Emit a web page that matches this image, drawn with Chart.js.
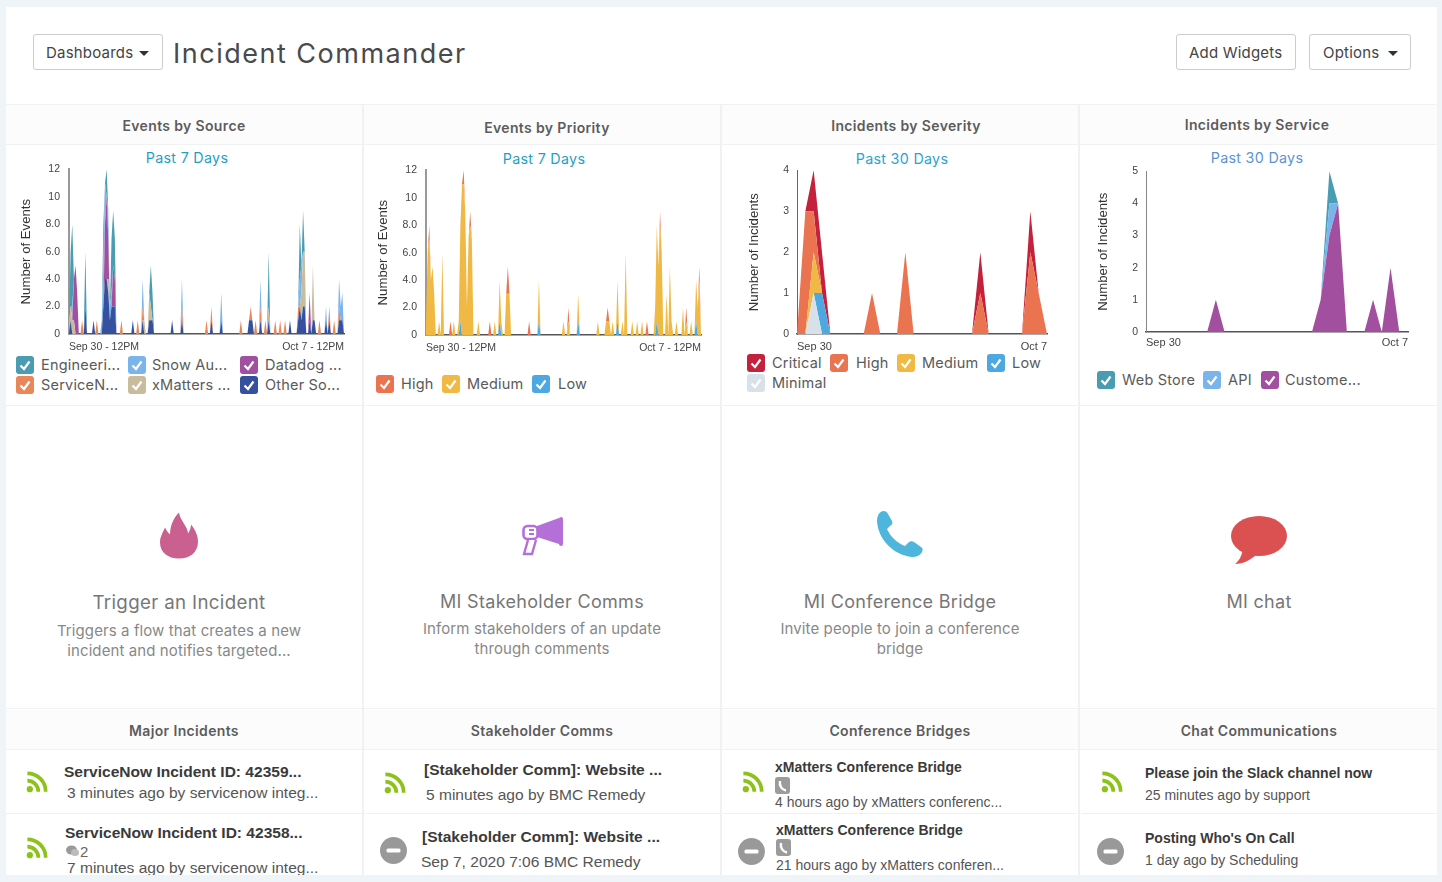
<!DOCTYPE html>
<html><head><meta charset="utf-8"><title>Incident Commander</title>
<script src="https://cdn.jsdelivr.net/npm/chart.js@4"></script>
<style>
html,body{margin:0;padding:0;width:1442px;height:882px;overflow:hidden;background:#eff4f8;}
#card{position:absolute;left:6px;top:7px;width:1431px;height:868px;background:#fff;overflow:hidden;}
#root{position:absolute;left:-6px;top:-7px;width:1442px;height:882px;}
.t{position:absolute;white-space:nowrap;transform:translateY(-50%);}
.c{transform:translate(-50%,-50%);}
.gotham{font-family:Inter,"Open Sans",sans-serif;}
.arial{font-family:"Liberation Sans",Arial,sans-serif;}
.btn{position:absolute;border:1px solid #ccc;border-radius:3px;box-sizing:border-box;height:36px;top:34px;background:#fff;}
.line{position:absolute;background:#f0f1f2;}
.band{position:absolute;background:#fcfcfc;}
canvas{position:absolute;}
.box{position:absolute;width:18px;height:18px;border-radius:3px;}
.box svg{position:absolute;left:0;top:0;}
.car{position:absolute;width:0;height:0;border-left:5px solid transparent;border-right:5px solid transparent;border-top:5px solid #333;}
</style></head><body>
<div id="card"><div id="root"></div></div>
<script>
// ---------- data ----------
const eventHours = [0,1,2,3,4,5,8,10,15,17, 20,21,22,23,24,25,26,27,28,32,39, 42,45,46,49,50,51,63,69,84,87, 93,105,110,111,112,114,117,120,122,126, 129,132,135,140,141,142,143,144,147,149, 150,153,157,159,162,165,166,167];
const srcOther = [0,1,0,0,0,0,0,2,1,0, 0,2,4,4,3,1,2,2,2,0,1, 0,1,0,1,1,1,1,1,0,1, 1,0,1,1,1,0,1,0,1,0, 0,0,1,1,2,1,2,2,1,1, 1,0,1,1,0,1,1,1];
const srcXmatters = [1,1,1,1,0,0,0,0,0,0, 0,0,0,0,1,0,0,0,0,0,0, 0,0,1,2,1,0,0,0,0,0, 0,0,0,0,0,0,0,0,1,0, 0,0,0,0,0,2,4,4,0,4, 0,0,0,0,0,0,0,0];
const srcServiceNow = [0,0,0,0,0,0,1,0,0,1, 0,0,0,0,0,0,0,0,0,1,0, 1,1,0,0,0,0,0,1,1,1, 0,1,0,1,0,1,1,1,0,1, 1,1,0,1,0,0,0,0,0,0, 0,1,0,1,1,1,0,0];
const srcDatadog = [0,0,0,3,5,3,0,0,0,0, 0,0,4,6,3,0,0,3,2,0,0, 0,0,0,0,0,0,0,0,0,0, 0,0,0,0,0,0,0,0,0,0, 0,0,0,0,0,0,0,0,2,0, 0,0,0,0,0,0,0,0];
const srcSnow = [0,0,1,0,0,0,0,0,0,0, 1,3,3,0,2,1,1,0,0,0,0, 0,2,0,0,0,0,0,2,0,0, 2,0,0,0,0,0,2,0,0,0, 0,0,0,0,2,2,0,0,0,0, 0,0,1,0,0,2,1,2];
const srcEngineering = [0,4,6,0,0,0,0,4,0,0, 0,3,0,2,0,0,4,4,3,0,0, 0,0,0,0,3,2,0,0,0,0, 0,0,0,0,0,0,0,0,4,0, 0,0,0,0,4,0,3,0,0,0, 0,0,0,0,0,0,0,0];
const priLow = [0,0,0,0,0,0,0,0,0,0, 0,1,0,0,0,0,0,0,0,0,0, 0,1,0,0,0,0,0,1,0,0, 1,0,0,0,0,0,1,0,0,0, 0,0,0,0,1,0,0,0,0,0, 0,0,0,0,0,1,0,0];
const priMedium = [1,6,7,4,5,3,1,6,0,1, 1,7,11,11,9,2,7,8,7,1,0, 1,3,1,3,3,3,0,3,1,1, 2,1,1,1,1,1,3,1,6,1, 1,1,0,2,7,5,8,6,3,5, 1,1,2,1,1,3,2,4];
const priHigh = [0,0,1,0,0,0,0,0,1,0, 0,0,0,1,0,0,0,1,0,0,1, 0,0,0,0,2,0,1,0,0,1, 0,0,0,1,0,0,0,0,0,0, 0,0,1,0,0,0,1,0,0,0, 0,0,0,1,0,0,0,1];
const sevMinimal  = [0,0,1,0,0,0,0,0,0,0,0,0,0,0,0,0,0,0,0,0,0,0,0,0,0,0,0,0,0,0,0];
const sevLow      = [0,0,0,1,0,0,0,0,0,0,0,0,0,0,0,0,0,0,0,0,0,0,0,0,0,0,0,0,0,0,0];
const sevMedium   = [0,0,1,0,0,0,0,0,0,0,0,0,0,0,0,0,0,0,0,0,0,0,0,0,0,0,0,0,0,0,0];
const sevHigh     = [0,3,1,0,0,0,0,0,0,1,0,0,0,2,0,0,0,0,0,0,0,0,1,0,0,0,0,0,2,1,0];
const sevCritical = [0,0,1,1,0,0,0,0,0,0,0,0,0,0,0,0,0,0,0,0,0,0,1,0,0,0,0,0,1,0,0];
const svcCustomer = [0,0,0,0,0,0,0,0,1,0,0,0,0,0,0,0,0,0,0,0,1,3,4,0,0,0,1,0,2,0,0];
const svcApi      = [0,0,0,0,0,0,0,0,0,0,0,0,0,0,0,0,0,0,0,0,0,1,0,0,0,0,0,0,0,0,0];
const svcWebStore = [0,0,0,0,0,0,0,0,0,0,0,0,0,0,0,0,0,0,0,0,0,1,0,0,0,0,0,0,0,0,0];
const ticksEvents = [0,2,4,6,8,10,12];
const ticksSeverity = [0,1,2,3,4];
const ticksService = [0,1,2,3,4,5];

const C={eng:'#4a9cb2',snow:'#7ab4ec',dd:'#a34fa0',sn:'#e8875a',xm:'#c8bb9e',other:'#35509e',
 high:'#ea7350',med:'#efb944',low:'#4da8e2',crit:'#c4223c',minimal:'#d8e0ea'};

// ---------- helpers ----------
const root=document.getElementById('root');
function el(tag,cls,style,html){const e=document.createElement(tag);if(cls)e.className=cls;if(style)e.style.cssText=style;if(html!=null)e.innerHTML=html;root.appendChild(e);return e;}
function T(x,y,txt,style,center,font){const e=el('div','t '+(center?'c ':'')+(font||'gotham'),`left:${x}px;top:${y}px;`+style);e.textContent=txt;return e;}
function R(x,y,w,h){el('div','line',`left:${x}px;top:${y}px;width:${w}px;height:${h}px`);}
function B(x,y,w,h){el('div','band',`left:${x}px;top:${y}px;width:${w}px;height:${h}px`);}
function svg(x,y,w,h,vb,inner){el('div','',`position:absolute;left:${x}px;top:${y}px;width:${w}px;height:${h}px`,`<svg width="${w}" height="${h}" viewBox="${vb}" style="display:block">${inner}</svg>`);}

// panel furniture
B(6,105,1431,39);B(6,710,1431,39);
[104,144,405,708,749].forEach(y=>R(6,y,1431,1));
R(6,813,356,1);R(364,813,356,1);R(722,813,355,1);R(1081,813,356,1);
[362,720,1078].forEach(x=>{R(x,105,2,300);R(x,406,2,302);R(x,709,2,170);});

// header
T(173,53,'Incident Commander','font-size:27px;letter-spacing:1.5px;color:#4a4a4a;font-weight:400');
function btn(x,w,txt,tx,caret){el('div','btn',`left:${x}px;width:${w}px`);T(tx,52,txt,'font-size:15px;color:#444;letter-spacing:.2px');if(caret)el('div','car',`left:${caret}px;top:51px`);}
btn(33,130,'Dashboards',46,139);btn(1176,120,'Add Widgets',1189);btn(1309,102,'Options',1323,1388);

// headings
const H='font-size:14px;font-weight:600;color:#5c5c5c;letter-spacing:.35px';
T(184,125,'Events by Source',H,1);T(547,127,'Events by Priority',H,1);T(906,125,'Incidents by Severity',H,1);T(1257,124,'Incidents by Service',H,1);
T(184,730,'Major Incidents',H,1);T(542,730,'Stakeholder Comms',H,1);T(900,730,'Conference Bridges',H,1);T(1259,730,'Chat Communications',H,1);
const S='font-size:14.3px;letter-spacing:.3px;';
T(187,157,'Past 7 Days',S+'color:#1f9fc4',1);T(544,158,'Past 7 Days',S+'color:#1f9fc4',1);T(902,158,'Past 30 Days',S+'color:#2ba3cf',1);T(1257,157,'Past 30 Days',S+'color:#5b93d6',1);

// legends
function leg(bx,lx,y,color,txt){el('div','box',`left:${bx}px;top:${y-9}px;background:${color}`,'<svg width="18" height="18" viewBox="0 0 18 18"><path d="M4.5 9.5 L8 13 L13.5 5.5" fill="none" stroke="#fff" stroke-width="2.2"/></svg>');T(lx,y-1,txt,'font-size:14.5px;color:#5a5a5a;letter-spacing:.2px');}
leg(16,41,365,C.eng,'Engineeri...');leg(128,152,365,C.snow,'Snow Au...');leg(240,265,365,C.dd,'Datadog ...');
leg(16,41,385,C.sn,'ServiceN...');leg(128,152,385,C.xm,'xMatters ...');leg(240,265,385,C.other,'Other So...');
leg(376,401,384,C.high,'High');leg(442,467,384,C.med,'Medium');leg(532,558,384,C.low,'Low');
leg(747,772,363,C.crit,'Critical');leg(830,856,363,C.high,'High');leg(897,922,363,C.med,'Medium');leg(987,1012,363,C.low,'Low');leg(747,772,383,C.minimal,'Minimal');
leg(1097,1122,380,C.eng,'Web Store');leg(1203,1228,380,C.snow,'API');leg(1261,1285,380,C.dd,'Custome...');

// tiles
svg(160,512,38,47,'0 0 38 46','<path fill="#c9608f" d="M19 0C20 8 28 14 28 21C30 18 31 15 31 12C36 18 38 24 38 29C38 40 30 46 19 46C8 46 0 40 0 30C0 24 3 20 5 15C7 19 9 21 10 22C10 14 13 6 19 0Z"/>');
svg(522,517,41,39,'0 0 41 39','<path fill="#b56fd8" d="M15 9L37 1V27L15 20Z"/><rect x="37" y="0" width="4" height="29" rx="2" fill="#b56fd8"/><rect x="1.5" y="9" width="14" height="13" rx="4" fill="#fff" stroke="#b56fd8" stroke-width="2.6"/><path d="M7 13h5M7 17h5" stroke="#b56fd8" stroke-width="2"/><path d="M6 23L2 37H10L14 23" fill="#fff" stroke="#b56fd8" stroke-width="2.4"/>');
svg(877,511,46,46,'0 0 46 46','<path fill="#4eb5dc" d="M6 0C9 0 10 1 11 3L15 10C16 12 15 14 13 15L10 18C13 25 20 32 28 35L31 32C33 30 35 30 37 31L44 36C46 37 46 39 45 41C43 45 39 46 35 46C16 44 1 28 0 10C0 5 2 1 6 0Z"/>');
svg(1231,516,56,49,'0 0 56 49','<ellipse cx="28" cy="20" rx="28" ry="20" fill="#db5050"/><path d="M12 32C11 40 8 45 4 48C12 48 20 44 26 38Z" fill="#db5050"/>');
const TT='font-size:18.7px;color:#777;letter-spacing:.35px',TM='font-size:18px;color:#777;letter-spacing:.3px',TD='font-size:15px;color:#888;letter-spacing:.1px';
T(179,602,'Trigger an Incident',TT,1);T(179,630,'Triggers a flow that creates a new',TD,1);T(179,650,'incident and notifies targeted...',TD,1);
T(542,601,'MI Stakeholder Comms',TM,1);T(542,628,'Inform stakeholders of an update',TD,1);T(542,648,'through comments',TD,1);
T(900,601,'MI Conference Bridge',TM,1);T(900,628,'Invite people to join a conference',TD,1);T(900,648,'bridge',TD,1);
T(1259,601,'MI chat',TM,1);

// list rows
function rss(cx,cy){svg(cx-11,cy-11,22,22,'0 0 24 24','<circle cx="4.2" cy="19.8" r="3.4" fill="#8cc21a"/><path d="M1.5 10.5A12 12 0 0 1 13.5 22.5M1.5 2.5A20 20 0 0 1 21.5 22.5" fill="none" stroke="#8cc21a" stroke-width="4"/>');}
function minus(cx,cy){svg(cx-13.5,cy-13.5,27,27,'0 0 27 27','<circle cx="13.5" cy="13.5" r="13.5" fill="#999"/><rect x="6.5" y="11.5" width="14" height="4" rx="1.5" fill="#fff"/>');}
function tel(x,y){svg(x,y,15,17,'0 0 15 17','<rect width="15" height="17" rx="3" fill="#9b9b9b"/><path d="M5 4C4 9 7 13 11 13.5" fill="none" stroke="#fff" stroke-width="2.4"/>');}
const LT='font-size:14px;font-weight:700;color:#3a3a3a;',LS='font-size:14px;color:#555;';
const W='transform-origin:0 50%;transform:translateY(-50%) scaleX(1.11);';
function row(x1,y1,t,x2,y2,s,wide){const w=wide?W:'';T(x1,y1,t,LT+w,0,'arial');T(x2,y2,s,LS+w,0,'arial');}
rss(37,782);row(64,772,'ServiceNow Incident ID: 42359...',67,793,'3 minutes ago by servicenow integ...',1);
rss(37,848);row(65,833,'ServiceNow Incident ID: 42358...',67,868,'7 minutes ago by servicenow integ...',1);
svg(66,845,13,12,'0 0 13 12','<ellipse cx="5.5" cy="5" rx="5.5" ry="4.6" fill="#999"/><ellipse cx="9" cy="7.5" rx="4" ry="3.6" fill="#bbb"/>');T(80,851,'2','font-size:15px;color:#666','', 'arial');
rss(395,783);row(424,770,'[Stakeholder Comm]: Website ...',426,795,'5 minutes ago by BMC Remedy',1);
minus(393,850);row(422,837,'[Stakeholder Comm]: Website ...',421,862,'Sep 7, 2020 7:06 BMC Remedy',1);
rss(753,782);row(775,767,'xMatters Conference Bridge',775,802,'4 hours ago by xMatters conferenc...');tel(775,777);
minus(751,851);row(776,830,'xMatters Conference Bridge',776,865,'21 hours ago by xMatters conferen...');tel(776,839);
rss(1112,782);row(1145,773,'Please join the Slack channel now',1145,795,'25 minutes ago by support');
minus(1110,851);row(1145,838,"Posting Who's On Call",1145,860,'1 day ago by Scheduling');

// ---------- charts ----------
function dense(hours,vals,n){const a=new Array(n).fill(0);hours.forEach((h,i)=>{a[h]=vals[i];});return a;}
function make(o){
  const c=document.createElement('canvas');
  const left=o.titleX-8, top=o.top-12, w=o.right+6-left, h=o.bottom+25-top;
  c.width=w;c.height=h;c.style.left=left+'px';c.style.top=top+'px';root.appendChild(c);
  new Chart(c,{type:'line',
   data:{labels:o.series[0].data.map((_,i)=>i),
     datasets:o.series.map((s,i)=>({label:s.label,data:s.data,backgroundColor:s.color,borderWidth:0,pointRadius:0,tension:0,fill:i===0?'origin':'-1'}))},
   options:{responsive:false,animation:false,devicePixelRatio:1,
     layout:{padding:{top:8,right:1,left:0,bottom:0}},
     plugins:{legend:{display:false},tooltip:{enabled:false},title:{display:false}},
     scales:{
       x:{stacked:true,offset:false,grid:{display:false,drawTicks:false},border:{color:'#555',width:1.5},
          afterBuildTicks:s=>{s.ticks=[s.ticks[0],s.ticks[s.ticks.length-1]];},
          afterFit:s=>{s.height=24;},
          ticks:{autoSkip:false,maxRotation:0,minRotation:0,align:'inner',padding:o.xPad,color:'#444',
            font:{family:'"Liberation Sans"',size:o.xSize},
            callback:(v,i)=>i===0?o.first:o.last}},
       y:{stacked:true,min:0,max:o.ticks[o.ticks.length-1],grid:{display:false,drawTicks:false},
          border:{color:o.axisColor,width:o.axisWidth},
          afterBuildTicks:s=>{s.ticks=o.ticks.map(v=>({value:v}));},
          afterFit:s=>{s.width=o.left-left;},
          title:{display:true,text:o.yTitle,color:'#333',padding:0,font:{family:'"Liberation Sans"',size:13.2}},
          ticks:{padding:o.yPad,color:'#444',font:{family:'"Liberation Sans"',size:10.5},
            callback:v=>o.decimals&&v>0&&v<10?v.toFixed(1):String(v)}}
     }}});
}
const N=169;
make({titleX:26,left:69,right:345,top:166,bottom:333,xPad:7,xSize:10.5,yPad:9,yTitle:'Number of Events',ticks:ticksEvents,decimals:true,first:'Sep 30 - 12PM',last:'Oct 7 - 12PM',axisColor:'#999',axisWidth:2,
 series:[{label:'Other Sources',color:C.other,data:dense(eventHours,srcOther,N)},{label:'xMatters',color:C.xm,data:dense(eventHours,srcXmatters,N)},{label:'ServiceNow',color:C.sn,data:dense(eventHours,srcServiceNow,N)},{label:'Datadog',color:C.dd,data:dense(eventHours,srcDatadog,N)},{label:'Snow Auto',color:C.snow,data:dense(eventHours,srcSnow,N)},{label:'Engineering',color:C.eng,data:dense(eventHours,srcEngineering,N)}]});
make({titleX:383,left:426,right:702,top:167,bottom:334,xPad:7,xSize:10.5,yPad:9,yTitle:'Number of Events',ticks:ticksEvents,decimals:true,first:'Sep 30 - 12PM',last:'Oct 7 - 12PM',axisColor:'#999',axisWidth:2,
 series:[{label:'Low',color:C.low,data:dense(eventHours,priLow,N)},{label:'Medium',color:C.med,data:dense(eventHours,priMedium,N)},{label:'High',color:C.high,data:dense(eventHours,priHigh,N)}]});
make({titleX:754,left:797,right:1047,top:168,bottom:333,xPad:6,xSize:11,yPad:8,yTitle:'Number of Incidents',ticks:ticksSeverity,first:'Sep 30',last:'Oct 7',axisColor:'#666',axisWidth:1,
 series:[{label:'Minimal',color:C.minimal,data:sevMinimal},{label:'Low',color:C.low,data:sevLow},{label:'Medium',color:C.med,data:sevMedium},{label:'High',color:C.high,data:sevHigh},{label:'Critical',color:C.crit,data:sevCritical}]});
make({titleX:1103,left:1146,right:1406,top:169,bottom:331,xPad:4,xSize:11,yPad:8,yTitle:'Number of Incidents',ticks:ticksService,first:'Sep 30',last:'Oct 7',axisColor:'#888',axisWidth:1,
 series:[{label:'Customer',color:C.dd,data:svcCustomer},{label:'API',color:C.snow,data:svcApi},{label:'Web Store',color:C.eng,data:svcWebStore}]});
</script>
</body></html>
